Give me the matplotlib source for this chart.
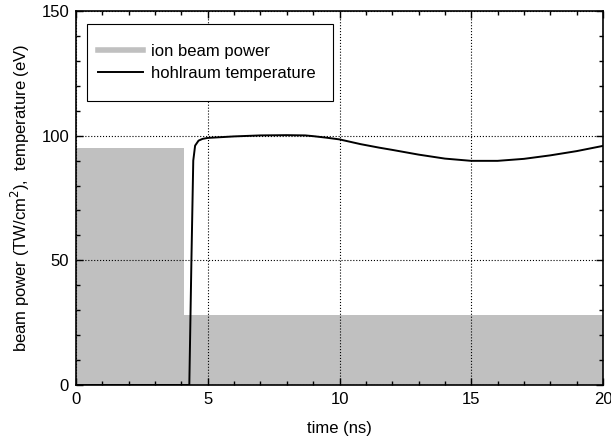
import numpy as np
import matplotlib.pyplot as plt
from matplotlib.patches import Rectangle
from matplotlib.ticker import MultipleLocator

plt.rcParams['font.family'] = ['Liberation Sans', 'DejaVu Sans']

# ion beam power: a prepulse then a lower foot
beam_t = [0, 4.08, 4.08, 20]
beam_p = [95, 95, 28, 28]

# hohlraum temperature
temp_t = [0, 4.3, 4.38, 4.45, 4.52, 4.65, 4.8, 5.0, 5.5, 6, 7, 8, 8.7, 9, 9.5, 10, 10.8,
          11.5, 12, 13, 14, 15, 16, 17, 18, 19, 20]
temp_T = [0, 0, 50, 90, 96, 98, 98.7, 99.1, 99.4, 99.7, 100.1, 100.2, 100.1, 99.8, 99.2, 98.5, 96.6,
          95.2, 94.3, 92.4, 90.8, 89.9, 89.9, 90.7, 92.1, 93.8, 95.9]

fig = plt.figure(figsize=(6.11, 4.43), dpi=100)
ax = fig.add_axes([0.1244, 0.1309, 0.8625, 0.8443])

ax.fill_between(beam_t, beam_p, 0, color='#c0c0c0', lw=0, label='_nolegend_')
ax.plot([], [], color='#c0c0c0', lw=4, label='ion beam power')
ax.plot(temp_t, temp_T, color='k', lw=1.4, label='hohlraum temperature')

ax.set_xlim(0, 20)
ax.set_ylim(0, 150)
ax.xaxis.set_major_locator(MultipleLocator(5))
ax.xaxis.set_minor_locator(MultipleLocator(1))
ax.yaxis.set_major_locator(MultipleLocator(50))
ax.yaxis.set_minor_locator(MultipleLocator(10))
ax.tick_params(which='both', direction='in', top=True, right=True, labelsize=12, pad=5)
ax.tick_params(which='major', length=5, width=1)
ax.tick_params(which='minor', length=3, width=1)
ax.grid(True, which='major', color='k', ls=':', lw=0.8)
ax.set_axisbelow(False)
for s in ax.spines.values():
    s.set_linewidth(1.2)

ax.set_xlabel('time (ns)', fontsize=12, labelpad=10)
ax.set_ylabel('beam power (TW/cm$^2$),  temperature (eV)', fontsize=12, labelpad=7)

# legend entries without frame, box drawn separately
box = Rectangle((0.021, 0.759), 0.467, 0.206, transform=ax.transAxes,
                facecolor='white', edgecolor='k', lw=0.8, zorder=4)
ax.add_patch(box)
leg = ax.legend(loc='upper left', bbox_to_anchor=(0.041, 0.912), borderaxespad=0,
                fontsize=12, frameon=False, borderpad=0, handlelength=2.7,
                handletextpad=0.5, labelspacing=0.4)
leg.set_zorder(5)

fig.savefig('out.png', dpi=100)
